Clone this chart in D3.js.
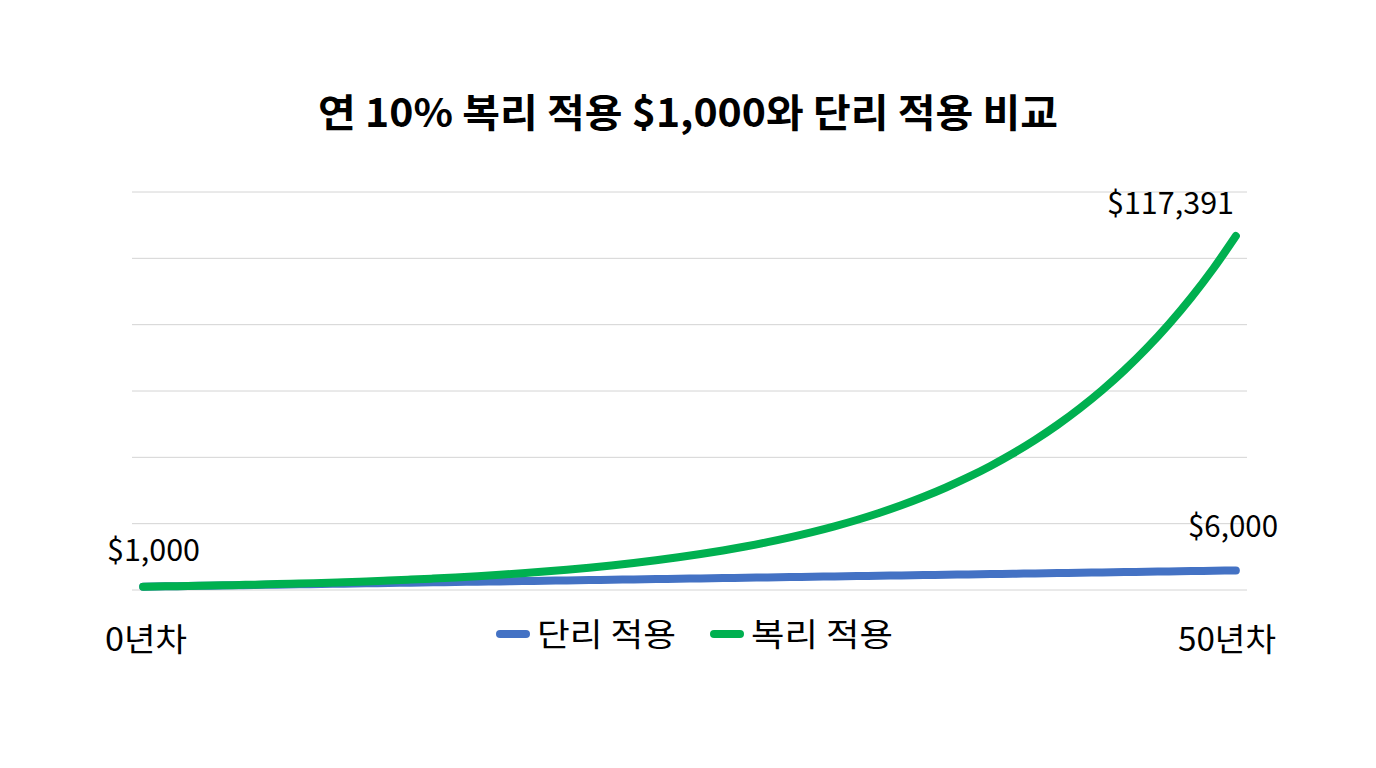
<!DOCTYPE html>
<html>
<head>
    <meta charset="utf-8">
    <style>
        body { margin: 0; background: #fff; }
        svg { display: block; font-family: 'Noto Sans CJK KR', 'Noto Sans', sans-serif; }
    </style>
</head>
<body>
    <svg width="1376" height="768"></svg>

<script src="https://d3js.org/d3.v7.min.js"></script>
<script>
    // years 0..49 as plotted
    let years = d3.range(50)
    let simpleValues = [1000, 1100, 1200, 1300, 1400, 1500, 1600, 1700, 1800, 1900,
        2000, 2100, 2200, 2300, 2400, 2500, 2600, 2700, 2800, 2900,
        3000, 3100, 3200, 3300, 3400, 3500, 3600, 3700, 3800, 3900,
        4000, 4100, 4200, 4300, 4400, 4500, 4600, 4700, 4800, 4900,
        5000, 5100, 5200, 5300, 5400, 5500, 5600, 5700, 5800, 5900]
    let compoundValues = [1000, 1100, 1210, 1331, 1464, 1611, 1772, 1949, 2144, 2358,
        2594, 2853, 3138, 3452, 3797, 4177, 4595, 5054, 5560, 6116,
        6727, 7400, 8140, 8954, 9850, 10835, 11918, 13110, 14421, 15863,
        17449, 19194, 21114, 23225, 25548, 28102, 30913, 34004, 37404, 41145,
        45259, 49785, 54764, 60240, 66264, 72890, 80180, 88197, 97017, 106719]
    let seriesNames = ["단리 적용", "복리 적용"]
    let yTicks = [0, 20000, 40000, 60000, 80000, 100000, 120000]
    let title = "연 10% 복리 적용 $1,000와 단리 적용 비교"
    let startLabel = "$1,000"
    let simpleEndLabel = "$6,000"
    let compoundEndLabel = "$117,391"
    let xLabels = ["0년차", "50년차"]

    let colors = ["#4472C4", "#00B050"]
    let svg = d3.select("svg")

    let x = d3.scalePoint()
        .domain(years)
        .range([132, 1247])
        .padding(0.5)
    let y = d3.scaleLinear()
        .domain([0, 120000])
        .range([590, 192])

    // gridlines
    svg.append("g")
        .selectAll("line")
        .data(yTicks)
        .join("line")
        .attr("x1", 132)
        .attr("x2", 1247)
        .attr("y1", d => y(d))
        .attr("y2", d => y(d))
        .style("stroke", "#d4d4d4")
        .style("stroke-width", 1)

    svg.append("text")
        .attr("x", 318)
        .attr("y", 127)
        .attr("textLength", 740)
        .attr("lengthAdjust", "spacingAndGlyphs")
        .style("font-size", "39px")
        .style("font-weight", "bold")
        .text(title)

    let line = d3.line()
        .x((d, i) => x(years[i]))
        .y(d => y(d))
        .curve(d3.curveMonotoneX)

    let series = [simpleValues, compoundValues]
    svg.append("g")
        .selectAll("path")
        .data(series)
        .join("path")
        .attr("d", line)
        .style("fill", "none")
        .style("stroke", (d, i) => colors[i])
        .style("stroke-width", 8)
        .style("stroke-linecap", "round")
        .style("stroke-linejoin", "round")

    // text helper: left x, baseline y, width in px
    function label(txt, x0, y0, w, size) {
        svg.append("text")
            .attr("x", x0)
            .attr("y", y0)
            .attr("textLength", w)
            .attr("lengthAdjust", "spacingAndGlyphs")
            .style("font-size", size + "px")
            .style("fill", "#000")
            .text(txt)
    }

    label(startLabel, 107, 561, 93, 30)
    label(simpleEndLabel, 1188, 537, 90, 30)
    label(compoundEndLabel, 1107, 214, 127, 30)
    label(xLabels[0], 105, 651, 82, 32)
    label(xLabels[1], 1178, 651, 98, 32)

    // legend
    let legendX = [496, 710]
    let legendW = [139, 142]
    let legend = svg.append("g")
        .selectAll("g")
        .data(seriesNames)
        .join("g")
        .attr("transform", (d, i) => `translate(${legendX[i]},634)`)
    legend.append("line")
        .attr("x1", 4)
        .attr("x2", 30)
        .style("stroke", (d, i) => colors[i])
        .style("stroke-width", 8)
        .style("stroke-linecap", "round")
    legend.append("text")
        .attr("x", 41)
        .attr("y", 12)
        .attr("textLength", (d, i) => legendW[i])
        .attr("lengthAdjust", "spacingAndGlyphs")
        .style("font-size", "32px")
        .text(d => d)
</script>
</body>
</html>
